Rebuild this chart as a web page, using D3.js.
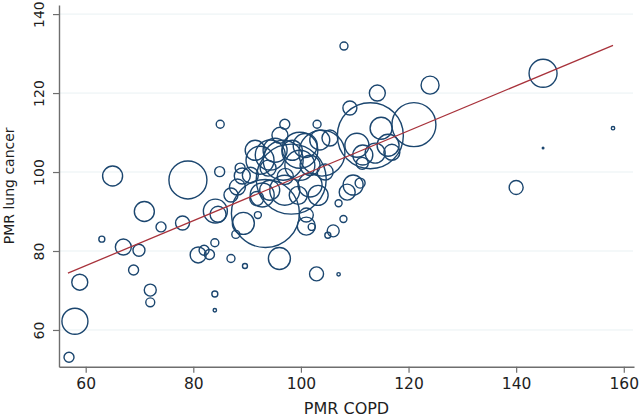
<!DOCTYPE html>
<html>
<head>
<meta charset="utf-8">
<script src="https://cdn.jsdelivr.net/npm/d3@7"></script>
<style>
  html, body { margin: 0; padding: 0; background: #ffffff; }
  svg { display: block; }
</style>
</head>
<body>
<svg id="chart" width="640" height="419"></svg>
<script>
// ---- data ----
const copdPMR = [
  65.0, 79.0, 84.9, 70.9, 74.0, 78.0, 63.0, 67.0, 69.9, 68.9,
  72.0, 72.0, 58.9, 58.0, 56.9, 80.9, 82.0, 83.0, 84.0, 87.0,
  84.0, 84.0, 87.9, 89.6, 84.1, 84.6, 87.0, 85.0, 97.0, 103.0,
  93.4, 89.3, 92.0, 101.0, 101.0, 102.0, 106.0, 105.0, 107.9, 107.0,
  96.0, 102.9, 107.0, 91.8,
  112.9, 114.9, 116.2, 110.4, 111.5, 113.8, 116.9, 111.4, 109.7, 111.0,
  108.6, 109.1, 114.2, 108.0, 121.0, 124.0, 145.0, 158.0, 145.0, 140.0,
  98.2, 103.9, 96.7, 99.8, 95.2, 100.8, 92.4, 98.4, 101.7, 94.2,
  99.5, 90.6, 88.7, 89.1, 88.2, 97.1, 103.2, 93.9, 104.5, 105.4,
  94.3, 99.8, 97.0, 101.7, 91.5, 103.5, 96.1, 92.8
];
const lungPMR = [
  99.0, 98.0, 100.1, 90.0, 86.1, 87.1, 83.0, 81.0, 80.2, 75.2,
  70.1, 67.0, 72.1, 62.2, 53.1, 79.0, 80.2, 79.1, 82.1, 78.1,
  69.1, 65.0, 84.2, 76.2, 90.1, 89.3, 94.2, 112.1, 112.1, 112.1,
  89.5, 87.0, 89.1, 89.1, 86.3, 86.1, 85.1, 84.0, 88.1, 92.1,
  78.1, 74.2, 74.1, 93.3,
  109.2, 111.1, 106.8, 106.8, 104.3, 104.8, 105.0, 102.2, 96.7, 97.2,
  94.9, 116.2, 120.0, 131.9, 112.0, 122.0, 125.0, 111.1, 106.1, 96.1,
  98.2, 104.8, 103.0, 101.7, 105.5, 106.7, 103.0, 105.5, 96.7, 95.4,
  94.1, 99.2, 101.0, 99.0, 96.2, 98.9, 94.1, 101.0, 100.0, 108.6,
  104.3, 105.5, 95.4, 101.7, 105.5, 108.1, 109.3, 94.2
];
// analytic weights (relative)
const weights = [
  1000, 3610, 250, 1000, 250, 490, 90, 640, 360, 250,
  360, 200, 640, 1690, 250, 640, 250, 250, 160, 160,
  90, 29, 160, 62, 1440, 640, 490, 160, 250, 160,
  11560, 1210, 122, 490, 810, 122, 360, 90, 122, 122,
  1210, 490, 29, 490,
  10890, 1210, 1210, 1440, 1000, 1000, 640, 360, 1000, 250,
  640, 490, 640, 160, 4840, 810, 1960, 29, 6, 490,
  12250, 5290, 4000, 2250, 1440, 1440, 1960, 1000, 1440, 1000,
  810, 640, 250, 640, 640, 640, 1000, 640, 640, 640,
  2250, 3240, 2250, 1000, 1000, 1000, 640, 1440
];
// fitted line end points
const fitX = [56.7, 158.0];
const fitY = [74.4, 132.1];

const xTicks = [60, 80, 100, 120, 140, 160];
const yTicks = [60, 80, 100, 120, 140];
const xTitle = "PMR COPD";
const yTitle = "PMR lung cancer";

// ---- drawing ----
const svg = d3.select("#chart");
const x = d3.scaleLinear().domain([55.04, 161.9]).range([59, 634]);
const y = d3.scaleLinear().domain([50.7, 142.3]).range([366.7, 5]);
const r = d3.scaleSqrt().domain([0, 12250]).range([0, 35]);

const axisColor = "#6e6e6e";
const textColor = "#1e1e1e";

// gridlines
svg.append("g").selectAll("line").data(yTicks).join("line")
  .attr("x1", x.range()[0] + 1).attr("x2", x.range()[1] - 1)
  .attr("y1", d => y(d)).attr("y2", d => y(d))
  .attr("stroke", "#e9f1f3").attr("stroke-width", 1);

// circles
const pts = copdPMR.map((v, i) => ({ x: v, y: lungPMR[i], w: weights[i] }));
svg.append("g").selectAll("circle").data(pts).join("circle")
  .attr("cx", d => x(d.x)).attr("cy", d => y(d.y))
  .attr("r", d => Math.max(0.8, r(d.w)))
  .attr("fill", "none")
  .attr("stroke", "#1b466f")
  .attr("stroke-width", 1.4);

// fitted line
svg.append("line")
  .attr("x1", x(fitX[0])).attr("y1", y(fitY[0]))
  .attr("x2", x(fitX[1])).attr("y2", y(fitY[1]))
  .attr("stroke", "#a8323b").attr("stroke-width", 1.3);

// x axis
const xAxis = d3.axisBottom(x).tickValues(xTicks).tickSize(6).tickPadding(5).tickSizeOuter(0);
const gx = svg.append("g").attr("transform", "translate(0,366.7)").call(xAxis);
gx.select(".domain").attr("stroke", axisColor).attr("stroke-width", 1.4);
gx.selectAll(".tick line").attr("stroke", axisColor).attr("stroke-width", 1.2);
gx.selectAll(".tick text")
  .attr("fill", textColor)
  .style("font-family", "'DejaVu Sans', Verdana, sans-serif")
  .style("font-size", "15.5px");

// y axis
const yAxis = d3.axisLeft(y).tickValues(yTicks).tickSize(6).tickSizeOuter(0);
const gy = svg.append("g").attr("transform", "translate(59,0)").call(yAxis);
gy.select(".domain").attr("stroke", axisColor).attr("stroke-width", 1.4);
gy.selectAll(".tick line").attr("stroke", axisColor).attr("stroke-width", 1.2);
gy.selectAll(".tick text")
  .attr("fill", textColor)
  .attr("x", 0).attr("dy", 0)
  .attr("transform", "translate(-15,0) rotate(-90)")
  .attr("text-anchor", "middle")
  .style("font-family", "'DejaVu Sans', Verdana, sans-serif")
  .style("font-size", "14px");

// titles
svg.append("text")
  .attr("x", (x.range()[0] + x.range()[1]) / 2).attr("y", 414)
  .attr("text-anchor", "middle")
  .attr("fill", textColor)
  .style("font-family", "'DejaVu Sans', Verdana, sans-serif")
  .style("font-size", "16px")
  .text(xTitle);

svg.append("text")
  .attr("transform", `translate(13.5,${(y.range()[0] + y.range()[1]) / 2}) rotate(-90)`)
  .attr("text-anchor", "middle")
  .attr("fill", textColor)
  .style("font-family", "'DejaVu Sans', Verdana, sans-serif")
  .style("font-size", "14px")
  .text(yTitle);
</script>
</body>
</html>
